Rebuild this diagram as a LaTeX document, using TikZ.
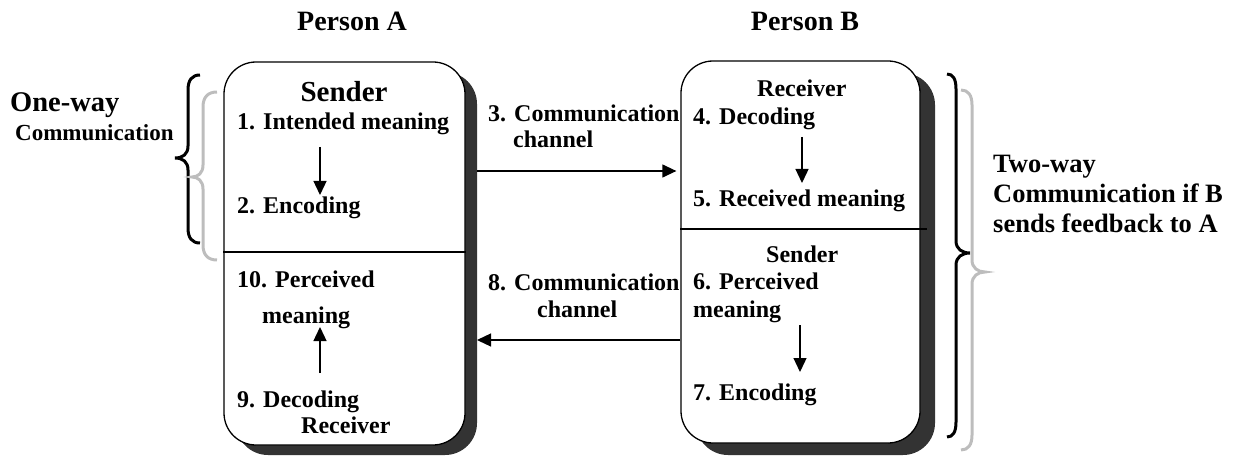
\documentclass[tikz,border=0pt]{standalone}
\usepackage{fontspec}
\setmainfont{Liberation Serif}
\usetikzlibrary{arrows.meta,shadows}
\definecolor{shadowc}{HTML}{333333}
\definecolor{bracegray}{HTML}{BDBDBD}
\begin{document}
\begin{tikzpicture}[x=1pt,y=-1pt,
  commbox/.style={rectangle, draw=black, line width=1.3pt, rounded corners=32pt, fill=white, inner sep=0pt},
  txt/.style={anchor=base west, inner sep=0pt, font=\bfseries\fontsize{24}{28}\selectfont},
  head/.style={anchor=base, inner sep=0pt, font=\bfseries\fontsize{28}{32}\selectfont},
  sidetxt/.style={anchor=base west, inner sep=0pt, font=\bfseries\fontsize{26.5}{30}\selectfont},
  arr/.style={line width=1.3pt, -{Triangle[length=14pt,width=13pt]}},
  divider/.style={line width=1.3pt},
  bbrace/.style={line width=3pt, black},
  gbrace/.style={line width=3pt, bracegray},
]
\useasboundingbox (0,0) rectangle (1241,457);

% boxes
\node[commbox, minimum width=241pt, minimum height=383pt,
  drop shadow={shadow xshift=12pt, shadow yshift=-10pt, fill=shadowc, opacity=1}]
  (boxA) at (344.5,253.5) {};
\node[commbox, minimum width=239pt, minimum height=382pt,
  drop shadow={shadow xshift=15pt, shadow yshift=-12pt, fill=shadowc, opacity=1}]
  (boxB) at (800.5,252) {};

\coordinate (divA) at (0,252);
\coordinate (divB) at (0,229);
\draw[divider] (boxA.west |- divA) -- (boxA.east |- divA);
\draw[divider] (boxB.west |- divB) -- ([xshift=6pt]boxB.east |- divB);

% headings
\node[head] (pA) at (352,31) {Person A};
\node[head] (pB) at (805,31) {Person B};

% left label
\node[anchor=base west, inner sep=0pt, font=\bfseries\fontsize{28.5}{32}\selectfont] (ow1) at (10,112) {One-way};
\node[anchor=base west, inner sep=0pt, font=\bfseries\fontsize{23}{27}\selectfont] (ow2) at (15,141) {Communication};

% box A texts
\node[anchor=base, inner sep=0pt, font=\bfseries\fontsize{29}{33}\selectfont] (sA) at (344,102) {Sender};
\node[txt] (t1) at (237,130) {1. Intended meaning};
\node[txt] (t2) at (237,213) {2. Encoding};
\node[txt] (t10) at (237,287) {10. Perceived};
\node[txt] (t10b) at (262,323) {meaning};
\node[txt] (t9) at (237,407) {9. Decoding};
\node[txt] (rA) at (301,433) {Receiver};

% box B texts
\node[txt] (rB) at (757,97) {Receiver};
\node[txt] (t4) at (693,125) {4. Decoding};
\node[txt] (t5) at (693,207) {5. Received meaning};
\node[txt] (sB) at (766,262) {Sender};
\node[txt] (t6) at (693,289) {6. Perceived};
\node[txt] (t6b) at (693,317) {meaning};
\node[txt] (t7) at (693,400) {7. Encoding};

% middle texts
\node[txt] (c3) at (488,122) {3. Communication};
\node[txt] (c3b) at (513,148) {channel};
\node[txt] (c8) at (488,290) {8. Communication};
\node[txt] (c8b) at (537,317) {channel};

% right label
\node[sidetxt] (tw1) at (993,172) {Two-way};
\node[sidetxt] (tw2) at (993,202) {Communication if B};
\node[sidetxt] (tw3) at (993,232) {sends feedback to A};

% inner arrows
\coordinate (a1s) at (320,147); \coordinate (a1e) at (320,195);
\coordinate (a9s) at (320,373); \coordinate (a9e) at (320,327);
\coordinate (a4s) at (802,137); \coordinate (a4e) at (802,183);
\coordinate (a6s) at (800,325); \coordinate (a6e) at (800,372);
\draw[arr] (a1s) -- (a1e);
\draw[arr] (a9s) -- (a9e);
\draw[arr] (a4s) -- (a4e);
\draw[arr] (a6s) -- (a6e);

% channel arrows
\coordinate (ch3) at (477,171);
\coordinate (ch8) at (477,340);
\draw[arr, shorten >=4pt] (ch3) -- (ch3 -| boxB.west);
\draw[arr] (ch8 -| boxB.west) -- (ch8);

% left braces
\draw[bbrace] (200,75) .. controls (192,75) and (188,80) .. (188,90) -- (188,146)
  .. controls (188,154) and (183,158) .. (175,158)
  .. controls (183,158) and (188,162) .. (188,170) -- (188,228)
  .. controls (188,238) and (192,243) .. (200,243);
\draw[gbrace] (217,92) .. controls (208,92) and (203,97) .. (203,107) -- (203,165)
  .. controls (203,173) and (198,177) .. (192,177)
  .. controls (198,177) and (203,181) .. (203,189) -- (203,245)
  .. controls (203,255) and (208,260) .. (217,260);

% right braces
\draw[bbrace] (947,74) .. controls (953,74) and (956,79) .. (956,89) -- (956,241)
  .. controls (956,249) and (962,253) .. (970,253)
  .. controls (962,253) and (956,257) .. (956,265) -- (956,422)
  .. controls (956,432) and (953,437) .. (947,437);
\draw[gbrace] (961,90) .. controls (968,90) and (972,95) .. (972,105) -- (972,260)
  .. controls (972,268) and (978,272) .. (985,272)
  .. controls (978,272) and (972,276) .. (972,284) -- (972,435)
  .. controls (972,445) and (968,450) .. (961,450);
\end{tikzpicture}
\end{document}
